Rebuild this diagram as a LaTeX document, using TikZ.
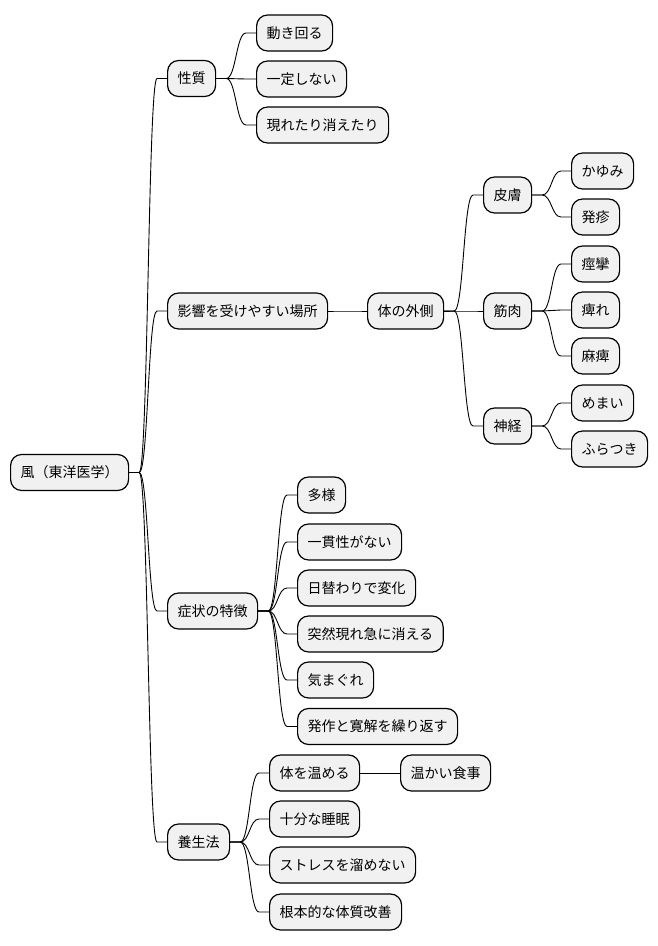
\documentclass[tikz,border=0pt]{standalone}
\usepackage{fontspec}
\setmainfont{Noto Sans CJK JP}
\usetikzlibrary{calc}
\tikzset{
  box/.style={draw=black, line width=1.2pt, fill=boxfill, rounded corners=11pt,
    anchor=west, minimum height=36pt, inner xsep=10pt, inner ysep=0pt,
    font=\fontsize{14pt}{16pt}\selectfont, text=black},
  mm/.style={line width=0.9pt, to path={let \p1=(\tikztostart), \p2=(\tikztotarget) in
    -- (\x1+10pt,\y1) .. controls ({(\x1+\x2)/2},\y1) and ({(\x1+\x2)/2},\y2) .. (\x2-10pt,\y2) -- (\tikztotarget)}}
}
\definecolor{boxfill}{HTML}{F1F1F1}
\begin{document}
\begin{tikzpicture}[x=1pt,y=-1pt]
\useasboundingbox[fill=white] (0,0) rectangle (658,946);
\node[box] (root) at (10,472.5) {風（東洋医学）};
% 性質
\node[box] (a) at (167,78.5) {性質};
\node[box] (a1) at (256,33) {動き回る};
\node[box] (a2) at (256,79) {一定しない};
\node[box] (a3) at (256,125) {現れたり消えたり};
% 影響
\node[box] (b) at (167,311) {影響を受けやすい場所};
\node[box] (b0) at (367,311) {体の外側};
\node[box] (c) at (483,195) {皮膚};
\node[box] (c1) at (571,171) {かゆみ};
\node[box] (c2) at (571,217) {発疹};
\node[box] (d) at (483,311) {筋肉};
\node[box] (d1) at (571,264) {痙攣};
\node[box] (d2) at (571,310) {痺れ};
\node[box] (d3) at (571,356) {麻痺};
\node[box] (e) at (483,426) {神経};
\node[box] (e1) at (571,403) {めまい};
\node[box] (e2) at (571,449) {ふらつき};
% 症状
\node[box] (f) at (167,611) {症状の特徴};
\node[box] (f1) at (297,495) {多様};
\node[box] (f2) at (297,542) {一貫性がない};
\node[box] (f3) at (297,588) {日替わりで変化};
\node[box] (f4) at (297,634) {突然現れ急に消える};
\node[box] (f5) at (297,680) {気まぐれ};
\node[box] (f6) at (297,726.5) {発作と寛解を繰り返す};
% 養生法
\node[box] (g) at (167,842) {養生法};
\node[box] (g1) at (269,773) {体を温める};
\node[box] (g1a) at (400,773) {温かい食事};
\node[box] (g2) at (269,819) {十分な睡眠};
\node[box] (g3) at (269,865) {ストレスを溜めない};
\node[box] (g4) at (269,912) {根本的な体質改善};
% connectors
\foreach \p/\c in {root/a,root/b,root/f,root/g,a/a1,a/a2,a/a3,b/b0,b0/c,b0/d,b0/e,
  c/c1,c/c2,d/d1,d/d2,d/d3,e/e1,e/e2,f/f1,f/f2,f/f3,f/f4,f/f5,f/f6,g/g1,g1/g1a,g/g2,g/g3,g/g4}
  \draw[mm] (\p.east) to (\c.west);
\end{tikzpicture}
\end{document}
